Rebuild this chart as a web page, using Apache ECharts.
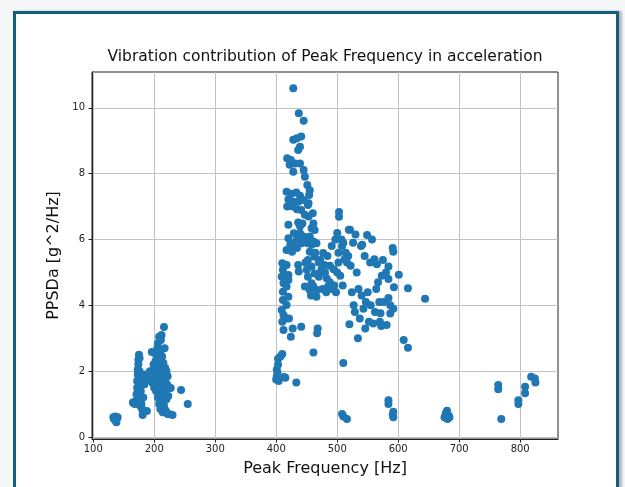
<!DOCTYPE html>
<html>
<head>
<meta charset="utf-8">
<script src="https://cdn.jsdelivr.net/npm/echarts@6/dist/echarts.min.js"></script>
<style>
html,body{margin:0;padding:0;background:#f6f7f8;width:625px;height:487px;overflow:hidden;}
#frame{position:absolute;left:13px;top:11px;width:600px;height:500px;background:#fff;border:3.5px solid #125f80;border-bottom:none;box-shadow:3px 0 2px #b8b8b8;}
#chart{position:absolute;left:0;top:0;width:625px;height:487px;}
</style>
</head>
<body>
<div id="frame"></div>
<div id="chart"></div>
<script>
// ---- data (Peak Frequency [Hz], PPSDa [g^2/Hz]) ----
const titleText = 'Vibration contribution of Peak Frequency in acceleration';
const xName = 'Peak Frequency [Hz]';
const yName = 'PPSDa [g^2/Hz]';
const xTicks = [100, 200, 300, 400, 500, 600, 700, 800];
const yTicks = [0, 2, 4, 6, 8, 10];

const groupLow = [[133,0.6],[134,0.55],[136,0.62],[137,0.5],[138,0.45],[139,0.58],[140,0.6],[136,0.52]];

const groupLeftColumn = [[165,1.05],[168,1.0],[170,1.1],[171,1.3],[172,1.5],[172,1.7],[173,1.9],[173,2.05],[174,2.2],[174,2.35],[175,2.5],[176,2.4],[176,2.0],[175,1.6],[174,1.2],[177,0.95],[178,1.4],[178,1.8],[179,1.0],[180,0.85],[181,0.67],[182,1.2],[184,1.6],[186,1.9],[188,0.79],[190,1.75],[193,2.0],[196,2.58],[197,1.65],[198,1.9],[199,2.2]];

const groupRightColumn = [[200,1.5],[200,1.8],[201,2.1],[202,2.3],[203,1.4],[203,2.5],[204,1.7],[205,2.7],[205,2.0],[206,1.2],[206,2.85],[207,1.6],[207,2.4],[208,1.0],[208,3.05],[209,1.9],[209,2.2],[210,0.85],[210,2.6],[210,1.35],[211,1.75],[211,2.95],[212,3.1],[212,2.0],[213,1.1],[213,2.45],[214,0.75],[214,1.55],[215,2.25],[215,1.85],[216,3.34],[216,0.95],[217,2.7],[217,1.3],[218,1.7],[218,2.1],[219,0.8],[219,1.45],[220,2.0],[220,1.15],[221,1.6],[222,0.7],[222,1.85],[223,1.25],[224,0.7],[225,1.5],[227,1.49],[230,0.67],[244,1.43],[255,1.0]];

const group400 = [[400,1.75],[401,1.85],[401,2.05],[402,1.95],[403,2.2],[403,2.38],[404,1.7],[407,2.45],[410,2.52],[413,1.82],[415,1.8],[433,1.66]];

const groupPeak = [[428,10.6],[437,9.84],[445,9.61],[428,9.03],[434,9.08],[441,9.13],[439,8.82],[436,8.72],[418,8.47],[424,8.42],[422,8.27],[431,8.31],[439,8.31],[428,8.06],[445,8.11],[447,7.91],[451,7.66],[455,7.5],[454,7.35],[453,7.1],[417,7.45],[425,7.39],[433,7.43],[439,7.33],[420,7.22],[428,7.15],[436,7.15],[418,7.0],[427,7.0],[434,6.92],[441,6.9],[447,6.75],[453,6.7],[461,6.49],[458,6.34],[463,6.29],[455,6.09],[452,5.89],[461,5.94],[445,6.09],[439,6.4],[436,6.52],[443,6.49],[429,6.19],[420,6.45],[420,6.04],[423,5.84],[417,5.68],[426,5.63],[434,5.74],[442,5.89],[450,6.04],[458,5.84],[466,5.89],[477,5.59],[472,5.38],[436,5.23],[437,5.03],[460,6.8],[452,7.05],[445,7.2],[439,6.19],[434,5.99],[428,5.89]];

const groupColumn410 = [[410,5.28],[417,5.23],[411,5.08],[409,4.87],[412,4.67],[420,4.92],[417,4.57],[420,4.77],[411,4.41],[420,4.26],[411,4.16],[417,4.01],[409,3.86],[412,3.71],[417,3.6],[421,3.6],[410,3.5],[412,3.25],[424,3.05],[427,3.3],[441,3.35],[468,3.3],[467,3.15],[461,2.57]];

const groupMiddle = [[466,4.26],[461,4.57],[467,4.47],[470,4.87],[463,4.97],[474,5.08],[479,5.23],[483,4.82],[485,4.57],[455,5.63],[452,5.38],[463,5.48],[458,5.18],[450,5.08],[452,4.87],[458,4.67],[455,4.47],[447,4.57],[448,5.3],[457,4.3],[464,5.6],[470,5.3],[476,4.5],[482,4.4],[488,5.2],[495,4.6],[502,5.6],[508,5.8]];

const groupRight = [[480,5.0],[484,5.5],[488,4.7],[490,4.5],[491,5.8],[494,5.1],[497,6.0],[498,4.4],[500,5.0],[500,6.2],[502,5.3],[503,6.84],[503,6.69],[505,4.9],[507,6.0],[509,4.6],[510,5.9],[512,5.4],[514,5.6],[516,5.3],[518,5.5],[519,6.3],[521,6.3],[522,5.2],[524,4.4],[526,5.9],[527,4.0],[529,3.8],[530,6.15],[532,5.0],[534,3.0],[535,4.5],[537,3.6],[539,5.8],[540,4.3],[541,5.84],[543,3.9],[545,5.5],[546,3.3],[547,4.1],[549,6.14],[550,4.4],[552,3.5],[554,5.3],[555,4.0],[557,6.0],[559,3.45],[561,5.4],[562,3.8],[564,4.5],[565,5.25],[567,4.7],[569,4.1],[570,3.5],[571,3.76],[572,3.37],[573,4.9],[575,5.38],[576,4.1],[580,5.0],[581,3.4],[584,5.18],[584,4.8],[584,4.22],[587,4.0],[587,3.75],[591,5.74],[592,5.63],[592,3.9],[593,4.55],[601,4.93],[609,2.95],[616,2.71],[616,4.52],[644,4.2],[520,3.43],[510,2.25]];

const groupScatteredLow = [[508,0.7],[510,0.62],[516,0.55],[584,1.12],[584,1.0],[592,0.77],[592,0.6],[591,0.68],[676,0.6],[678,0.72],[680,0.8],[681,0.55],[683,0.65],[679,0.58],[684,0.6],[764,1.58],[764,1.45],[769,0.55],[797,1.12],[797,1.0],[808,1.53],[808,1.33],[818,1.83],[824,1.78],[825,1.66]];

const allPoints = [].concat(groupLow, groupLeftColumn, groupRightColumn, group400, groupPeak, groupColumn410, groupMiddle, groupRight, groupScatteredLow);

const chart = echarts.init(document.getElementById('chart'), null, {renderer: 'canvas'});
const font = 'DejaVu Sans';
chart.setOption({
  backgroundColor: 'transparent',
  animation: false,
  grid: {left: 92, right: 67, top: 72, bottom: 48, show: true, borderColor: '#222', borderWidth: 1, backgroundColor: 'transparent', containLabel: false, outerBoundsMode: 'none'},
  graphic: [{
    type: 'text', x: 325, y: 57,
    style: {text: titleText, textAlign: 'center', textVerticalAlign: 'middle', font: '15.5px "DejaVu Sans"', fill: '#111'}
  }],
  xAxis: {
    type: 'value', min: 98, max: 862,
    name: xName, nameLocation: 'middle', nameGap: 22,
    nameTextStyle: {fontFamily: font, fontSize: 16, color: '#111'},
    axisLine: {show: true, onZero: false, lineStyle: {color: '#222', width: 1}},
    axisTick: {show: true, inside: false, length: 3.5, customValues: xTicks, lineStyle: {color: '#222'}},
    axisLabel: {customValues: xTicks, margin: 5, fontFamily: font, fontSize: 10, color: '#222'},
    splitLine: {show: true, lineStyle: {color: '#c2c2c2', width: 1}}
  },
  yAxis: {
    type: 'value', min: -0.06, max: 11.09,
    name: yName, nameLocation: 'middle', nameGap: 25,
    nameTextStyle: {fontFamily: font, fontSize: 16, color: '#111'},
    axisLine: {show: true, onZero: false, lineStyle: {color: '#222', width: 1}},
    axisTick: {show: true, inside: false, length: 3.5, customValues: yTicks, lineStyle: {color: '#222'}},
    axisLabel: {customValues: yTicks, margin: 7, fontFamily: font, fontSize: 10, color: '#222'},
    splitLine: {show: true, lineStyle: {color: '#c2c2c2', width: 1}}
  },
  series: [{
    type: 'scatter',
    data: allPoints,
    symbol: 'circle',
    symbolSize: 8,
    itemStyle: {color: '#1f77b4', opacity: 1},
    silent: true
  }]
});
</script>
</body>
</html>
